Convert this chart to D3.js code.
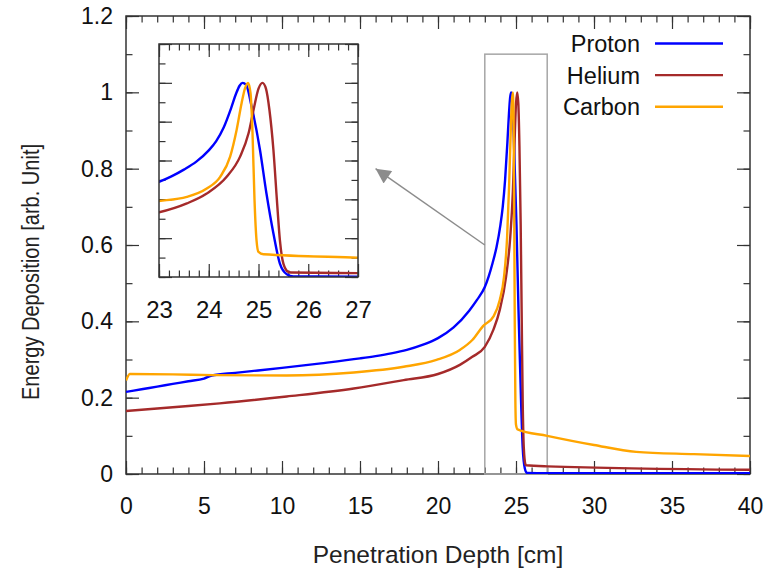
<!DOCTYPE html>
<html lang="en">
<head>
<meta charset="UTF-8">
<title>Energy deposition vs depth</title>
<script src="https://d3js.org/d3.v7.min.js"></script>
<style>
  body { margin: 0; background: #fff; }
  text { font-family: "Liberation Sans", Arial, sans-serif; }
</style>
</head>
<body>
<div id="chart"></div>
<script>

// data: depth [cm] and energy deposition [arb. unit]
const protonDepth = [0, 1, 2, 3, 4, 5, 5.5, 7, 10, 12.5, 15, 16, 17, 18, 19, 20, 21, 22, 22.5, 23, 23.25, 23.5, 23.75, 24, 24.15, 24.3, 24.45, 24.55, 24.62, 24.68, 24.75, 24.86, 25.03, 25.16, 25.3, 25.43, 25.57, 25.7, 27, 40];
const protonDose = [0.215, 0.222, 0.229, 0.236, 0.243, 0.25, 0.258, 0.265, 0.278, 0.29, 0.303, 0.309, 0.316, 0.325, 0.338, 0.356, 0.384, 0.428, 0.456, 0.49, 0.518, 0.553, 0.594, 0.652, 0.7, 0.77, 0.87, 0.945, 0.985, 1.0, 0.99, 0.88, 0.654, 0.43, 0.224, 0.069, 0.014, 0.003, 0.002, 0.002];

const heliumDepth = [0, 3, 6, 10.3, 14.6, 17.8, 20, 21.4, 22.2, 23, 23.56, 23.96, 24.36, 24.63, 24.8, 24.9, 25.0, 25.08, 25.15, 25.22, 25.3, 25.37, 25.43, 25.5, 25.6, 25.65, 27, 40];
const heliumDose = [0.165, 0.175, 0.185, 0.203, 0.224, 0.246, 0.262, 0.286, 0.307, 0.333, 0.379, 0.43, 0.516, 0.62, 0.74, 0.86, 0.97, 1.0, 0.97, 0.86, 0.654, 0.396, 0.19, 0.069, 0.026, 0.023, 0.02, 0.011];

const carbonDepth = [0, 0.25, 3, 5.6, 10.3, 14.6, 17.8, 19.9, 21.4, 22.2, 22.9, 23.56, 23.96, 24.23, 24.43, 24.56, 24.66, 24.73, 24.79, 24.84, 24.88, 24.92, 24.96, 25.0, 25.1, 27, 30, 32.7, 36.4, 40];
const carbonDose = [0.245, 0.262, 0.261, 0.259, 0.258, 0.266, 0.281, 0.299, 0.325, 0.351, 0.388, 0.413, 0.456, 0.516, 0.62, 0.757, 0.895, 0.973, 1.0, 0.947, 0.74, 0.396, 0.19, 0.129, 0.117, 0.1, 0.076, 0.058, 0.052, 0.047];

const seriesNames = ["Proton", "Helium", "Carbon"];
const xTicks = [0, 5, 10, 15, 20, 25, 30, 35, 40];
const yTicks = [0, 0.2, 0.4, 0.6, 0.8, 1, 1.2];
const insetTicks = [23, 24, 25, 26, 27];

const series = [
  {name: seriesNames[0], depth: protonDepth, dose: protonDose, color: "#0000ff"},
  {name: seriesNames[1], depth: heliumDepth, dose: heliumDose, color: "#a52a2a"},
  {name: seriesNames[2], depth: carbonDepth, dose: carbonDose, color: "#ffa500"}
];

const W = 768, H = 568;
const margin = {top: 16, right: 18, bottom: 94, left: 126};
const gw = W - margin.left - margin.right;
const gh = H - margin.top - margin.bottom;
const axisColor = "#333";

const svg = d3.select("#chart").append("svg")
  .attr("width", W)
  .attr("height", H);

const defs = svg.append("defs");
defs.append("clipPath").attr("id", "clipMain")
  .append("rect").attr("width", gw).attr("height", gh);

defs.append("marker")
  .attr("id", "head")
  .attr("viewBox", "0 0 10 10")
  .attr("refX", 10).attr("refY", 5)
  .attr("markerUnits", "userSpaceOnUse")
  .attr("markerWidth", 24).attr("markerHeight", 15)
  .attr("orient", "auto")
  .append("path")
    .attr("d", "M0,0 L10,5 L0,10 z")
    .attr("fill", "#8c8c8c");

const graph = svg.append("g")
  .attr("transform", `translate(${margin.left},${margin.top})`);

// scales
const x = d3.scaleLinear().domain([0, 40]).range([0, gw]);
const y = d3.scaleLinear().domain([0, 1.2]).range([gh, 0]);

// style an axis group: remove domain, colour ticks
const styleAxis = (g, size) => {
  g.select(".domain").remove();
  g.attr("font-family", null).attr("font-size", size);
  g.selectAll(".tick line").attr("stroke", axisColor).attr("stroke-width", 1.2);
  g.selectAll(".tick text").attr("fill", "#111");
};

const drawFrameTicks = (g, sx, sy, w, h, xMaj, xMin, yMaj, yMin, xLabels, yLabels, fsize, xPad) => {
  const bottom = g.append("g").attr("transform", `translate(0,${h})`);
  bottom.append("g").call(d3.axisBottom(sx).tickValues(xMin).tickSize(-6.5).tickFormat(""))
    .call(styleAxis, fsize);
  bottom.append("g").call(d3.axisBottom(sx).tickValues(xMaj).tickSize(-13).tickPadding(xPad)
      .tickFormat(xLabels ? d3.format("~g") : ""))
    .call(styleAxis, fsize);

  g.append("g").call(d3.axisTop(sx).tickValues(xMin).tickSize(-6.5).tickFormat("")).call(styleAxis, fsize);
  g.append("g").call(d3.axisTop(sx).tickValues(xMaj).tickSize(-13).tickFormat("")).call(styleAxis, fsize);

  g.append("g").call(d3.axisLeft(sy).tickValues(yMin).tickSize(-6.5).tickFormat("")).call(styleAxis, fsize);
  g.append("g").call(d3.axisLeft(sy).tickValues(yMaj).tickSize(-13).tickPadding(13)
      .tickFormat(yLabels ? d3.format("~g") : ""))
    .call(styleAxis, fsize);

  const right = g.append("g").attr("transform", `translate(${w},0)`);
  right.append("g").call(d3.axisRight(sy).tickValues(yMin).tickSize(-6.5).tickFormat("")).call(styleAxis, fsize);
  right.append("g").call(d3.axisRight(sy).tickValues(yMaj).tickSize(-13).tickFormat("")).call(styleAxis, fsize);
};

// main axes
drawFrameTicks(graph, x, y, gw, gh,
  xTicks, d3.range(0, 41, 1),
  yTicks, d3.range(0, 1.21, 0.1),
  true, true, 23, 24);

graph.append("rect")
  .attr("width", gw).attr("height", gh)
  .attr("fill", "none")
  .attr("stroke", axisColor)
  .attr("stroke-width", 1.5);

// zoom box around the peaks
graph.append("rect")
  .attr("x", x(23)).attr("y", y(1.1))
  .attr("width", x(27) - x(23))
  .attr("height", y(0) - y(1.1))
  .attr("fill", "none")
  .attr("stroke", "#a6a6a6")
  .attr("stroke-width", 1.5);

const line = (sx, sy) => d3.line()
  .x(d => sx(d[0]))
  .y(d => sy(d[1]))
  .curve(d3.curveMonotoneX);

const mainLine = line(x, y);
graph.append("g").attr("clip-path", "url(#clipMain)")
  .selectAll("path")
  .data(series)
  .enter()
  .append("path")
    .attr("d", s => mainLine(s.depth.map((d, i) => [d, s.dose[i]])))
    .attr("fill", "none")
    .attr("stroke", s => s.color)
    .attr("stroke-width", 2.4)
    .attr("stroke-linejoin", "round");

// arrow from zoom box to inset
graph.append("line")
  .attr("x1", x(23)).attr("y1", y(0.6))
  .attr("x2", x(16)).attr("y2", y(0.8))
  .attr("stroke", "#8c8c8c")
  .attr("stroke-width", 1.5)
  .attr("marker-end", "url(#head)");

// inset
const inset = {x: 159, y: 44, w: 199, h: 233};
defs.append("clipPath").attr("id", "clipInset")
  .append("rect").attr("width", inset.w).attr("height", inset.h);

const ig = svg.append("g")
  .attr("transform", `translate(${inset.x},${inset.y})`);

ig.append("rect")
  .attr("width", inset.w).attr("height", inset.h)
  .attr("fill", "#fff");

const ix = d3.scaleLinear().domain([23, 27]).range([0, inset.w]);
const iy = d3.scaleLinear().domain([0, 1.2]).range([inset.h, 0]);

drawFrameTicks(ig, ix, iy, inset.w, inset.h,
  insetTicks, d3.range(23, 27.01, 0.2),
  yTicks, d3.range(0, 1.21, 0.1),
  true, false, 24, 24);

const insetLine = line(ix, iy);
ig.append("g").attr("clip-path", "url(#clipInset)")
  .selectAll("path")
  .data(series)
  .enter()
  .append("path")
    .attr("d", s => insetLine(s.depth.map((d, i) => [d, s.dose[i]])))
    .attr("fill", "none")
    .attr("stroke", s => s.color)
    .attr("stroke-width", 2.4)
    .attr("stroke-linejoin", "round");

ig.append("rect")
  .attr("width", inset.w).attr("height", inset.h)
  .attr("fill", "none")
  .attr("stroke", axisColor)
  .attr("stroke-width", 1.5);

// legend
const legend = svg.append("g")
  .selectAll("g")
  .data(series)
  .enter()
  .append("g")
    .attr("transform", (d, i) => `translate(0,${43.5 + i * 31.6})`);

legend.append("text")
  .attr("x", 640)
  .attr("y", 8.5)
  .attr("text-anchor", "end")
  .attr("font-size", 23.5)
  .attr("fill", "#111")
  .text(d => d.name);

legend.append("line")
  .attr("x1", 655).attr("x2", 723)
  .attr("stroke", d => d.color)
  .attr("stroke-width", 2.4);

// axis titles
svg.append("text")
  .attr("x", margin.left + gw / 2)
  .attr("y", 563)
  .attr("text-anchor", "middle")
  .attr("font-size", 24.5)
  .attr("fill", "#222")
  .text("Penetration Depth [cm]");

svg.append("text")
  .attr("transform", "translate(38.5,272) rotate(-90)")
  .attr("text-anchor", "middle")
  .attr("font-size", 23)
  .attr("textLength", 256)
  .attr("lengthAdjust", "spacingAndGlyphs")
  .attr("fill", "#222")
  .text("Energy Deposition [arb. Unit]");

</script>
</body>
</html>
